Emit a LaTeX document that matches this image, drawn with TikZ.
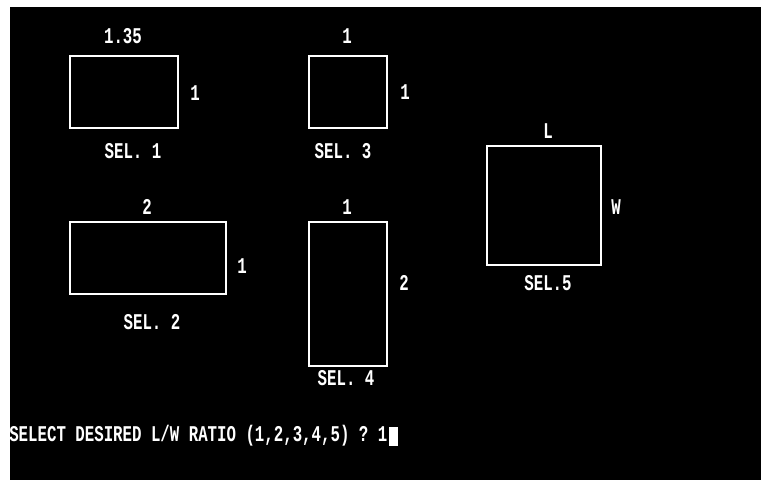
\documentclass[tikz,border=0pt]{standalone}
\usepackage{fontspec}
\setmonofont[FakeStretch=0.7]{Liberation Mono}
\usepackage{tikz}
\usetikzlibrary{positioning}
\tikzset{
  ratiobox/.style={rectangle, draw=white, line width=1.4pt, minimum height=1.8cm, inner sep=0pt},
  dos/.style={text=white, font=\ttfamily\bfseries\fontsize{16}{16}\selectfont, inner sep=0pt},
}

\begin{document}
\begin{tikzpicture}[x=0.025cm, y=-0.025cm]
   % screen
   \useasboundingbox (0,0) rectangle (761,480);
   \fill[white] (0,0) rectangle (761,480);
   \fill[black] (10,7) rectangle (761,480);

   % boxes
   \node[ratiobox, minimum width=2.7cm] (sel1) at (124,92) {};
   \node[ratiobox, minimum width=1.95cm] (sel3) at (348,92) {};
   \node[ratiobox, minimum width=3.9cm] (sel2) at (148,258) {};
   \node[ratiobox, minimum width=1.95cm, minimum height=3.6cm] (sel4) at (348,294) {};
   \node[ratiobox, minimum width=2.85cm, minimum height=2.975cm] (sel5) at (544,205.5) {};

   % side lengths
   \node[dos] (l1) at (123,36) {1.35};
   \node[dos] (w1) at (195,93) {1};
   \node[dos] (l3) at (347,36) {1};
   \node[dos] (w3) at (405,92) {1};
   \node[dos] (l2) at (147,207) {2};
   \node[dos] (w2) at (242,266) {1};
   \node[dos] (l4) at (347,207) {1};
   \node[dos] (w4) at (404,283) {2};
   \node[dos] (l5) at (548,131) {L};
   \node[dos] (w5) at (616,207) {W};

   % captions
   \node[dos] (c1) at (133,151) {SEL. 1};
   \node[dos] (c3) at (343,151) {SEL. 3};
   \node[dos] (c2) at (152,322) {SEL. 2};
   \node[dos] (c4) at (346,378) {SEL. 4};
   \node[dos] (c5) at (548,283) {SEL.5};

   % prompt
   \node[dos, anchor=west] (prompt) at (9,436) {SELECT DESIRED L/W RATIO (1,2,3,4,5) ? 1};
   \node[fill=white, minimum width=0.225cm, minimum height=0.475cm, inner sep=0pt, right=1pt of prompt] (cursor) {};
\end{tikzpicture}
\end{document}
